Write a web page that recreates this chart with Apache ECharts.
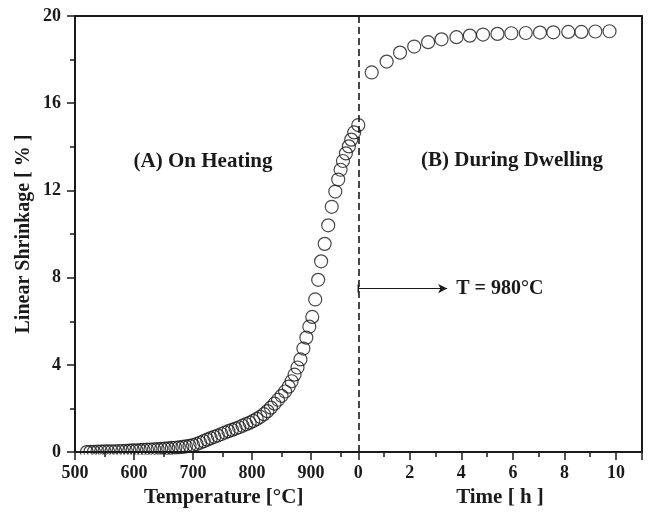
<!DOCTYPE html>
<html>
<head>
<meta charset="utf-8">
<script src="https://cdn.jsdelivr.net/npm/echarts@6/dist/echarts.min.js"></script>
<style>
  html, body { margin: 0; padding: 0; background: #fff; }
  #chart { width: 651px; height: 513px; }
</style>
</head>
<body>
<div id="chart"></div>
<script>
// (A) on heating: temperature [°C] vs linear shrinkage [%]
const heatTemp = [520, 526, 532, 538, 544, 550, 556, 562, 568, 574, 580, 586, 592, 598, 604, 610,
  616, 622, 628, 634, 640, 646, 652, 658, 664, 670, 676, 682, 688, 694, 700, 706, 712, 718, 724,
  730, 736, 742, 748, 754, 760, 766, 772, 778, 784, 790, 796, 802, 808, 814, 820, 826, 832, 838,
  844, 850, 856, 862, 867, 872, 877, 882, 887, 892, 897, 902, 907, 912, 917, 923, 929, 935, 941,
  946, 950, 954, 959, 964, 968, 973, 980]
const heatShrink = [0.00, 0.01, 0.01, 0.02, 0.02, 0.03, 0.03, 0.04, 0.04, 0.05, 0.05, 0.06, 0.07,
  0.08, 0.08, 0.09, 0.10, 0.11, 0.12, 0.13, 0.14, 0.15, 0.16, 0.17, 0.19, 0.20, 0.22, 0.24, 0.26,
  0.29, 0.32, 0.37, 0.43, 0.50, 0.57, 0.64, 0.70, 0.76, 0.83, 0.90, 0.96, 1.02, 1.08, 1.14, 1.21,
  1.28, 1.35, 1.43, 1.52, 1.62, 1.74, 1.88, 2.04, 2.22, 2.40, 2.58, 2.78, 3.00, 3.25, 3.55, 3.88,
  4.25, 4.75, 5.25, 5.75, 6.20, 7.00, 7.90, 8.75, 9.55, 10.40, 11.25, 11.95, 12.50, 12.95, 13.35,
  13.70, 14.02, 14.33, 14.66, 15.00]

// (B) during dwelling at 980 °C: time [h] vs linear shrinkage [%]
const dwellTime = [0.52, 1.10, 1.62, 2.17, 2.71, 3.23, 3.81, 4.33, 4.84, 5.40, 5.94, 6.50, 7.05,
  7.57, 8.15, 8.66, 9.20, 9.75]
const dwellShrink = [17.41, 17.91, 18.32, 18.60, 18.80, 18.93, 19.03, 19.10, 19.15, 19.18, 19.21,
  19.22, 19.24, 19.25, 19.27, 19.27, 19.29, 19.30]

// axis ranges / tick steps
const tempRange = [500, 980]
const tempStep = 100
const timeRange = [0, 11]
const timeStep = 2
const shrinkRange = [0, 20]
const shrinkStep = 4

// arrow marking the dwell temperature
const arrowShrink = 7.5
const arrowEndTime = 3.45

const FONT = '"Liberation Serif", "Times New Roman", serif'
const INK = '#1a1a1a'

const chart = echarts.init(document.getElementById('chart'))

const lineStyle = { color: INK, width: 2 }
const tickStyle = { color: INK, width: 1.5 }
const labelStyle = { color: INK, fontFamily: FONT, fontWeight: 'bold', fontSize: 18 }
const nameStyle = { color: INK, fontFamily: FONT, fontWeight: 'bold', fontSize: 21 }

const bottomAxis = (gridIndex, range, step, name, pad) => ({
  gridIndex,
  type: 'value',
  z: 10,
  min: range[0],
  max: range[1],
  interval: step,
  position: 'bottom',
  axisLine: { show: true, onZero: false, lineStyle },
  axisTick: { show: true, inside: false, length: 8, lineStyle: tickStyle },
  minorTick: { show: true, splitNumber: 2, length: 5, lineStyle: tickStyle },
  splitLine: { show: false },
  minorSplitLine: { show: false },
  axisLabel: { ...labelStyle, margin: 12, showMaxLabel: false },
  name,
  nameLocation: 'middle',
  nameGap: 33,
  nameTextStyle: { ...nameStyle, padding: pad }
})

const topAxis = (gridIndex, range) => ({
  gridIndex,
  type: 'value',
  min: range[0],
  max: range[1],
  position: 'top',
  axisLine: { show: true, onZero: false, lineStyle },
  axisTick: { show: false },
  axisLabel: { show: false },
  splitLine: { show: false }
})

const option = {
  animation: false,
  backgroundColor: '#fff',
  grid: [
    { left: 75, top: 16, width: 283.3, height: 437.3 },
    { left: 358.3, top: 16, width: 283.4, height: 437.3 }
  ],
  xAxis: [
    bottomAxis(0, tempRange, tempStep, 'Temperature [°C]', [0, 0, 0, 14]),
    bottomAxis(1, timeRange, timeStep, 'Time [ h ]', [0, 0, 0, 0]),
    topAxis(0, tempRange),
    topAxis(1, timeRange)
  ],
  yAxis: [
    {
      gridIndex: 0,
      type: 'value',
      z: 10,
      min: shrinkRange[0],
      max: shrinkRange[1],
      interval: shrinkStep,
      axisLine: { show: true, onZero: false, lineStyle },
      axisTick: { show: true, inside: false, length: 8, lineStyle: tickStyle },
      minorTick: { show: true, splitNumber: 2, length: 5, lineStyle: tickStyle },
      splitLine: { show: false },
      axisLabel: { ...labelStyle, margin: 14 },
      name: 'Linear Shrinkage [ % ]',
      nameLocation: 'middle',
      nameGap: 41,
      nameTextStyle: { ...nameStyle, fontSize: 20 }
    },
    {
      gridIndex: 1,
      type: 'value',
      position: 'right',
      min: shrinkRange[0],
      max: shrinkRange[1],
      axisLine: { show: true, onZero: false, lineStyle },
      axisTick: { show: false },
      axisLabel: { show: false },
      splitLine: { show: false }
    }
  ],
  graphic: [
    // markers are cut off at the bottom axis, as in the original plot
    {
      type: 'rect', z: 5, silent: true,
      shape: { x: 76, y: 454.5, width: 565, height: 10 },
      style: { fill: '#fff' }
    },
    {
      type: 'text', x: 203, y: 162,
      style: { text: '(A) On Heating', fill: INK, textAlign: 'center', textVerticalAlign: 'middle',
        font: 'bold 21px ' + FONT }
    },
    {
      type: 'text', x: 512, y: 161,
      style: { text: '(B) During Dwelling', fill: INK, textAlign: 'center', textVerticalAlign: 'middle',
        font: 'bold 21px ' + FONT }
    }
  ],
  series: [
    {
      name: 'On Heating',
      type: 'scatter',
      xAxisIndex: 0,
      yAxisIndex: 0,
      symbol: 'circle',
      symbolSize: 13,
      clip: false,
      itemStyle: { color: 'rgba(0,0,0,0)', borderColor: INK, borderWidth: 1.2 },
      data: heatTemp.map((t, i) => [t, heatShrink[i]]),
      markLine: {
        silent: true,
        symbol: 'none',
        label: { show: false },
        lineStyle: { color: INK, width: 1.6, type: [7, 4] },
        data: [{ xAxis: tempRange[1] }]
      }
    },
    {
      name: 'During Dwelling',
      type: 'scatter',
      xAxisIndex: 1,
      yAxisIndex: 1,
      symbol: 'circle',
      symbolSize: 13,
      clip: false,
      itemStyle: { color: 'rgba(0,0,0,0)', borderColor: INK, borderWidth: 1.2 },
      data: dwellTime.map((t, i) => [t, dwellShrink[i]]),
      markLine: {
        silent: true,
        lineStyle: { color: INK, width: 1.2, type: 'solid' },
        label: {
          show: true,
          position: 'end',
          distance: 9,
          formatter: 'T = 980°C',
          color: INK,
          fontFamily: FONT,
          fontWeight: 'bold',
          fontSize: 20
        },
        data: [[
          { coord: [timeRange[0], arrowShrink], symbol: 'rect', symbolSize: [8, 1.5] },
          { coord: [arrowEndTime, arrowShrink], symbol: 'arrow', symbolSize: [7, 9] }
        ]]
      }
    }
  ]
}

chart.setOption(option)
</script>
</body>
</html>
